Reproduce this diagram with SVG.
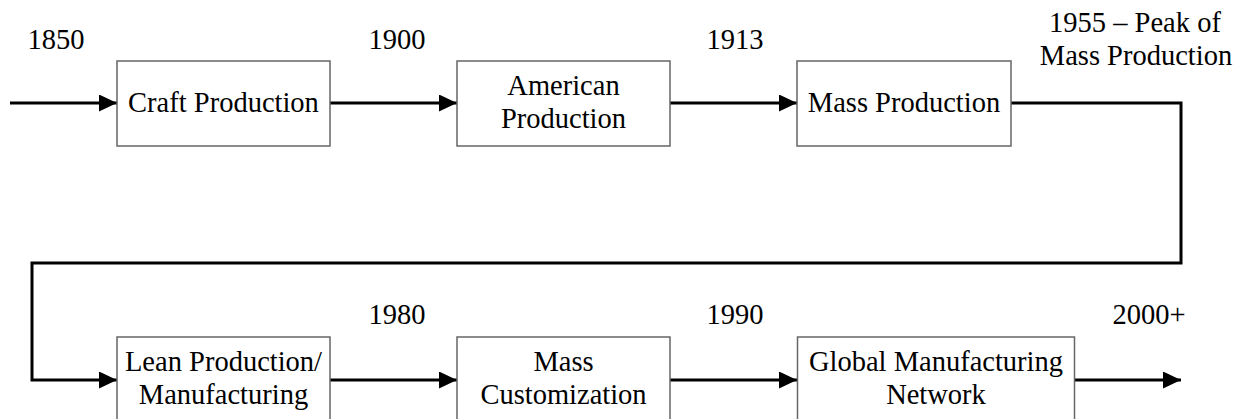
<svg xmlns="http://www.w3.org/2000/svg" width="1237" height="419" viewBox="0 0 1237 419">
<style>
.box{fill:#fff;stroke:#666;stroke-width:1.5}
.t{font-family:"Liberation Serif","Times New Roman",serif;font-size:28.5px;fill:#000;text-anchor:middle}
.c{fill:none;stroke:#000;stroke-width:3}
</style>
<defs>
<marker id="ah" markerUnits="userSpaceOnUse" markerWidth="19" markerHeight="18" refX="18" refY="8.5" orient="auto">
<path d="M0,0 L18,8.5 L0,17 Z" fill="#000"/>
</marker>
</defs>
<rect width="1237" height="419" fill="#fff"/>
<g id="connectors">
<line class="c" x1="10" y1="103" x2="117" y2="103" marker-end="url(#ah)"/>
<line class="c" x1="330" y1="103" x2="457" y2="103" marker-end="url(#ah)"/>
<line class="c" x1="670" y1="103" x2="797" y2="103" marker-end="url(#ah)"/>
<polyline class="c" points="1011,103 1181,103 1181,263 32,263 32,380 117,380" marker-end="url(#ah)"/>
<line class="c" x1="330" y1="380" x2="457" y2="380" marker-end="url(#ah)"/>
<line class="c" x1="670" y1="380" x2="797" y2="380" marker-end="url(#ah)"/>
<line class="c" x1="1075" y1="380" x2="1181" y2="380" marker-end="url(#ah)"/>
</g>
<g id="labels">
<text class="t" x="56" y="49">1850</text>
<text class="t" x="397" y="49">1900</text>
<text class="t" x="735" y="49">1913</text>
<text class="t" x="1135" y="32">1955 – Peak of</text>
<text class="t" x="1136" y="65">Mass Production</text>
<text class="t" x="397" y="324">1980</text>
<text class="t" x="735" y="324">1990</text>
<text class="t" x="1149" y="324">2000+</text>
</g>
<g id="craft">
<rect class="box" x="117" y="61" width="213" height="85"/>
<text class="t" x="223.5" y="112">Craft Production</text>
</g>
<g id="american">
<rect class="box" x="457" y="61" width="213" height="85"/>
<text class="t" x="563.5" y="95">American</text>
<text class="t" x="563.5" y="128">Production</text>
</g>
<g id="mass">
<rect class="box" x="797" y="61" width="214" height="85"/>
<text class="t" x="904" y="112">Mass Production</text>
</g>
<g id="lean">
<rect class="box" x="117" y="337" width="213" height="85"/>
<text class="t" x="223.5" y="371">Lean Production/</text>
<text class="t" x="223.5" y="404">Manufacturing</text>
</g>
<g id="customization">
<rect class="box" x="457" y="337" width="213" height="85"/>
<text class="t" x="563.5" y="371">Mass</text>
<text class="t" x="563.5" y="404">Customization</text>
</g>
<g id="global">
<rect class="box" x="797.5" y="337" width="277" height="85"/>
<text class="t" x="936" y="371">Global Manufacturing</text>
<text class="t" x="936" y="404">Network</text>
</g>
</svg>
